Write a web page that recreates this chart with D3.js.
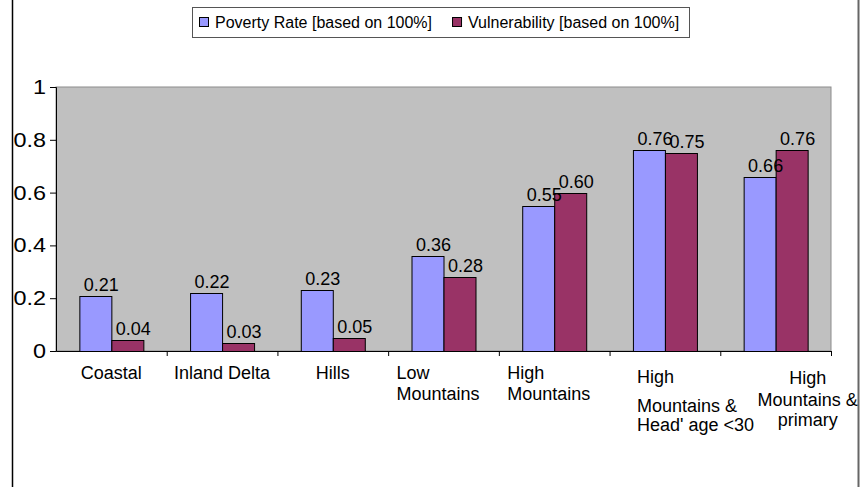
<!DOCTYPE html>
<html>
<head>
<meta charset="utf-8">
<script src="https://cdnjs.cloudflare.com/ajax/libs/d3/7.8.5/d3.min.js"></script>
<style>
  body { margin: 0; background: #fff; }
  svg { display: block; font-family: "Liberation Sans", Arial, sans-serif; }
</style>
</head>
<body>
<div id="chart"></div>
<script>
// data
const categories = ["Coastal", "Inland Delta", "Hills", "Low Mountains", "High Mountains",
  "High Mountains & Head' age <30", "High Mountains & primary"];
// how each category label is broken into lines
const categoryLines = [
  ["Coastal"],
  ["Inland Delta"],
  ["Hills"],
  ["Low", "Mountains"],
  ["High", "Mountains"],
  ["High", "Mountains &", "Head' age <30"],
  ["High", "Mountains &", "primary"]
];
const poverty = [0.21, 0.22, 0.23, 0.36, 0.55, 0.76, 0.66];
const vulnerability = [0.04, 0.03, 0.05, 0.28, 0.60, 0.75, 0.76];
const seriesNames = ["Poverty Rate [based on 100%]", "Vulnerability [based on 100%]"];
const seriesColors = ["#9999FF", "#993366"];
const yTicks = [0, 0.2, 0.4, 0.6, 0.8, 1];

const width = 867, height = 488;
const plot = { left: 56, top: 87, right: 831, bottom: 351 };

// label layout tweaks (Excel wraps these labels a bit unevenly)
const labelAlign = ["middle", "middle", "middle", "start", "start", "start", "middle"];
const labelShift = [0, 0, 0, -47, -47, -28, 32];
const labelLineY = [[0], [0], [0], [0, 21], [0, 21], [4, 33, 52], [5, 27, 47]];

const svg = d3.select("#chart").append("svg")
  .attr("width", width)
  .attr("height", height);

// outer chart frame (only the sides show)
svg.append("line").attr("x1", 12.5).attr("x2", 12.5).attr("y1", 0).attr("y2", 487)
  .attr("stroke", "#000").attr("stroke-width", 1.5);
svg.append("line").attr("x1", 858.5).attr("x2", 858.5).attr("y1", 0).attr("y2", 487)
  .attr("stroke", "#666").attr("stroke-width", 2);

const x = d3.scaleBand()
  .domain(categories)
  .range([plot.left, plot.right])
  .paddingInner(0)
  .paddingOuter(0);

const xs = d3.scaleBand()
  .domain([0, 1])
  .range([0, 64]);

const y = d3.scaleLinear()
  .domain([0, 1])
  .range([plot.bottom, plot.top]);

// plot area
svg.append("rect")
  .attr("x", plot.left)
  .attr("y", plot.top)
  .attr("width", plot.right - plot.left)
  .attr("height", plot.bottom - plot.top)
  .attr("fill", "#C0C0C0")
  .attr("stroke", "#8c8c8c")
  .attr("stroke-width", 1);

// bars
const rows = categories.map((c, i) => ({ cat: c, vals: [poverty[i], vulnerability[i]] }));

const groups = svg.selectAll(".grp")
  .data(rows)
  .enter().append("g")
  .attr("class", "grp")
  .attr("transform", d => "translate(" + (x(d.cat) + x.bandwidth() / 2 - 32) + ",0)");

groups.selectAll("rect")
  .data(d => d.vals.map((v, k) => ({ v: v, k: k })))
  .enter().append("rect")
  .attr("x", d => xs(d.k) + 0.5)
  .attr("y", d => Math.round(y(d.v)) + 0.5)
  .attr("width", xs.bandwidth())
  .attr("height", d => plot.bottom - Math.round(y(d.v)))
  .attr("fill", d => seriesColors[d.k])
  .attr("stroke", "#000")
  .attr("stroke-width", 1);

groups.selectAll("text.val")
  .data(d => d.vals.map((v, k) => ({ v: v, k: k })))
  .enter().append("text")
  .attr("class", "val")
  .attr("x", d => xs(d.k) + xs.bandwidth() / 2 + 6)
  .attr("y", d => y(d.v) - 5)
  .attr("text-anchor", "middle")
  .attr("font-size", 18)
  .attr("fill", "#000")
  .text(d => d3.format(".2f")(d.v));

// y axis
const yAxis = d3.axisLeft(y)
  .tickValues(yTicks)
  .tickSize(6)
  .tickPadding(4)
  .tickFormat(d => d3.format("")(d));

const gy = svg.append("g")
  .attr("transform", "translate(" + plot.left + ",0)")
  .call(yAxis);
gy.select(".domain").attr("stroke", "#000");
gy.selectAll(".tick line").attr("stroke", "#000");
gy.selectAll(".tick text")
  .attr("font-size", 20)
  .attr("fill", "#000")
  .attr("font-family", "Liberation Sans, Arial, sans-serif")
  .each(function() {
    const w = this.getComputedTextLength();
    d3.select(this).attr("textLength", w * 1.17).attr("lengthAdjust", "spacingAndGlyphs");
  });

// x axis
const xAxis = d3.axisBottom(x).tickSize(0).tickFormat("");
const gx = svg.append("g")
  .attr("transform", "translate(0," + plot.bottom + ")")
  .call(xAxis);
gx.select(".domain").attr("stroke", "#000");
gx.selectAll(".tick").remove();

// tick marks on category boundaries
svg.selectAll(".xtick")
  .data(categories)
  .enter().append("line")
  .attr("x1", d => x(d) + x.bandwidth() + 0.5)
  .attr("x2", d => x(d) + x.bandwidth() + 0.5)
  .attr("y1", plot.bottom)
  .attr("y2", plot.bottom + 5)
  .attr("stroke", "#000");

// category labels
const lab = svg.selectAll(".cat")
  .data(categories)
  .enter().append("text")
  .attr("class", "cat")
  .attr("font-size", 18)
  .attr("fill", "#000")
  .attr("text-anchor", (d, i) => labelAlign[i])
  .attr("transform", (d, i) => "translate(" + (x(d) + x.bandwidth() / 2 + labelShift[i]) + "," + (plot.bottom + 28) + ")");

lab.each(function(d, i) {
  d3.select(this).selectAll("tspan")
    .data(categoryLines[i])
    .enter().append("tspan")
    .attr("x", 0)
    .attr("y", (s, j) => labelLineY[i][j])
    .text(s => s);
});

// legend
const legend = svg.append("g").attr("transform", "translate(192,7)");
legend.append("rect")
  .attr("x", 0.5).attr("y", 0.5)
  .attr("width", 497).attr("height", 30)
  .attr("fill", "#fff")
  .attr("stroke", "#555");

let lx = 7;
seriesNames.forEach((name, k) => {
  legend.append("rect")
    .attr("x", lx + 0.5).attr("y", 10.5)
    .attr("width", 9).attr("height", 9)
    .attr("fill", seriesColors[k])
    .attr("stroke", "#000");
  const t = legend.append("text")
    .attr("x", lx + 16)
    .attr("y", 21)
    .attr("font-size", 16)
    .attr("fill", "#000")
    .text(name);
  lx += 16 + t.node().getComputedTextLength() + 20;
});
</script>
</body>
</html>
